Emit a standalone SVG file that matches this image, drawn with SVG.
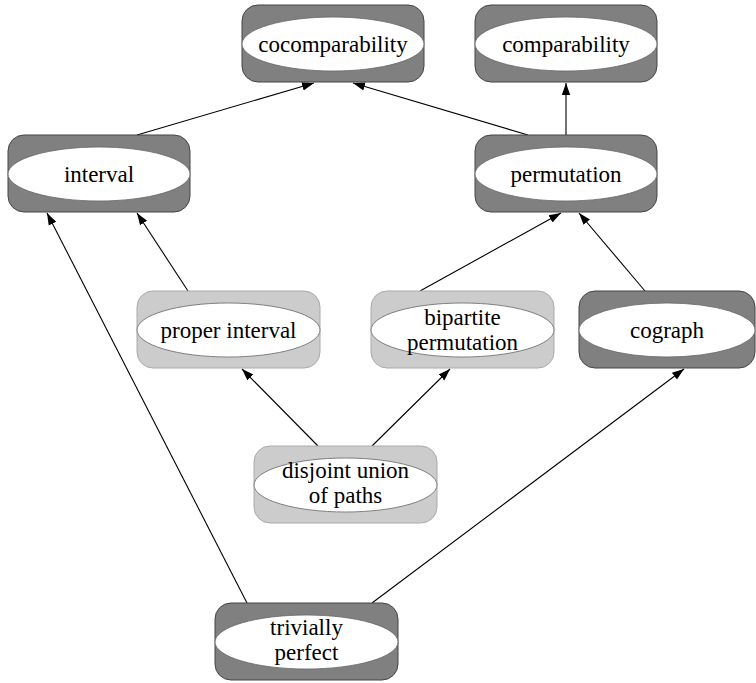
<svg xmlns="http://www.w3.org/2000/svg" width="756" height="683" viewBox="0 0 756 683">
<style>
.dark rect{fill:#808080;stroke:#444;stroke-width:1}
.light rect{fill:#cccccc;stroke:#aaaaaa;stroke-width:1}
ellipse{fill:#ffffff;stroke:#666;stroke-width:0.8}
text{font-family:"Liberation Serif","Times New Roman",serif;font-size:23px;fill:#000;text-anchor:middle}
.edges line{stroke:#000;stroke-width:1.1;marker-end:url(#ah)}
</style>
<defs>
<marker id="ah" viewBox="0 0 10 10" refX="10" refY="5" markerWidth="12" markerHeight="12" markerUnits="userSpaceOnUse" orient="auto">
<path d="M0,1.5 L10,5 L0,8.5 z" fill="#000"/>
</marker>
</defs>
<rect width="756" height="683" fill="#fff"/>
<g class="edges">
<line x1="137" y1="135" x2="314" y2="83"/>
<line x1="528" y1="135" x2="353" y2="83"/>
<line x1="566" y1="135" x2="566" y2="83"/>
<line x1="188" y1="291" x2="137" y2="213"/>
<line x1="247" y1="603" x2="47" y2="213"/>
<line x1="420" y1="291" x2="561" y2="213"/>
<line x1="645" y1="291" x2="579" y2="213"/>
<line x1="318" y1="446" x2="242" y2="369"/>
<line x1="372" y1="446" x2="450" y2="369"/>
<line x1="372" y1="603" x2="684" y2="369"/>
</g>
<g id="cocomparability" class="dark">
<rect x="242" y="5" width="182" height="77" rx="16"/>
<ellipse cx="333" cy="44" rx="91" ry="27"/>
<text x="333" y="52">cocomparability</text>
</g>
<g id="comparability" class="dark">
<rect x="475" y="5" width="182" height="77" rx="16"/>
<ellipse cx="566" cy="44" rx="91" ry="27"/>
<text x="566" y="52">comparability</text>
</g>
<g id="interval" class="dark">
<rect x="8" y="135" width="182" height="77" rx="16"/>
<ellipse cx="99" cy="174" rx="91" ry="27"/>
<text x="99" y="182">interval</text>
</g>
<g id="permutation" class="dark">
<rect x="475" y="135" width="182" height="77" rx="16"/>
<ellipse cx="566" cy="174" rx="91" ry="27"/>
<text x="566" y="182">permutation</text>
</g>
<g id="proper-interval" class="light">
<rect x="137" y="291" width="183" height="77" rx="16"/>
<ellipse cx="228.5" cy="330" rx="91.5" ry="27"/>
<text x="228.5" y="338">proper interval</text>
</g>
<g id="bipartite-permutation" class="light">
<rect x="371" y="291" width="183" height="77" rx="16"/>
<ellipse cx="462.5" cy="330" rx="91.5" ry="27"/>
<text x="462.5" y="325">bipartite</text>
<text x="462.5" y="350">permutation</text>
</g>
<g id="cograph" class="dark">
<rect x="579" y="291" width="176" height="77" rx="16"/>
<ellipse cx="667" cy="330" rx="88" ry="27"/>
<text x="667" y="338">cograph</text>
</g>
<g id="disjoint-union-of-paths" class="light">
<rect x="254" y="446" width="183" height="77" rx="16"/>
<ellipse cx="345.5" cy="485" rx="91.5" ry="27"/>
<text x="345.5" y="478">disjoint union</text>
<text x="345.5" y="503">of paths</text>
</g>
<g id="trivially-perfect" class="dark">
<rect x="215" y="603" width="183" height="77" rx="16"/>
<ellipse cx="306.5" cy="642" rx="91.5" ry="27"/>
<text x="306.5" y="635">trivially</text>
<text x="306.5" y="660">perfect</text>
</g>
</svg>
